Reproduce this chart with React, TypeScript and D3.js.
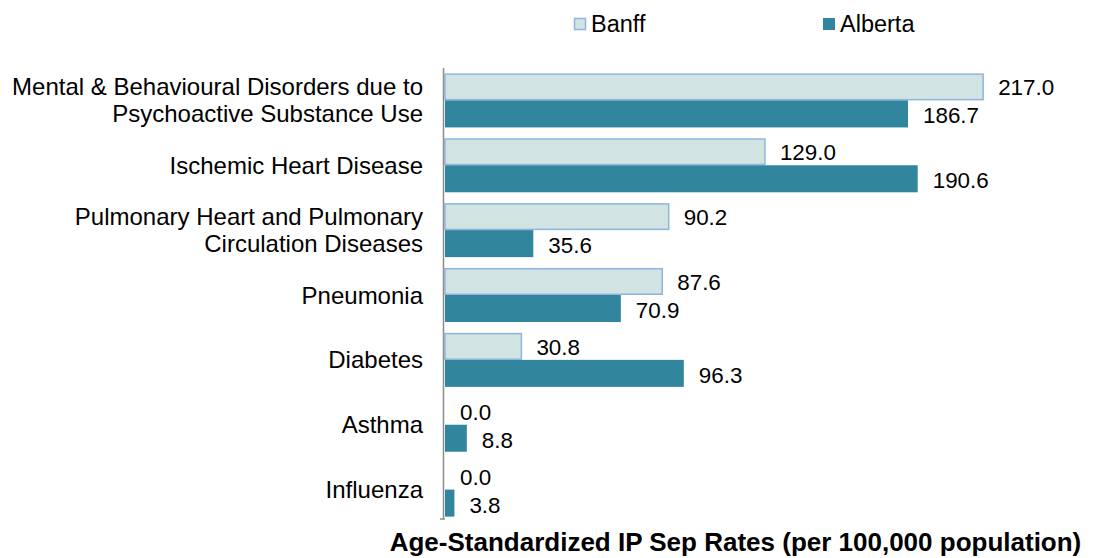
import React from 'react';
import * as d3 from 'd3';

// Data
const categories = [
  ['Mental & Behavioural Disorders due to', 'Psychoactive Substance Use'],
  ['Ischemic Heart Disease'],
  ['Pulmonary Heart and Pulmonary', 'Circulation Diseases'],
  ['Pneumonia'],
  ['Diabetes'],
  ['Asthma'],
  ['Influenza'],
];
const banff = [217.0, 129.0, 90.2, 87.6, 30.8, 0.0, 0.0];
const alberta = [186.7, 190.6, 35.6, 70.9, 96.3, 8.8, 3.8];
const seriesNames = ['Banff', 'Alberta'];
const axisTitle = 'Age-Standardized IP Sep Rates (per 100,000 population)';

const W = 1093;
const H = 558;
const FONT = '"Liberation Sans", Arial, Helvetica, sans-serif';
const BANFF_FILL = '#d2e4e2';
const BANFF_STROKE = '#8fb4e3';
const ALBERTA_FILL = '#31859c';

export default function App() {
  const keys = categories.map((c, i) => String(i));
  const y = d3.scaleBand<string>().domain(keys).range([68, 522]).paddingInner(0.167).paddingOuter(0.083);
  const x = d3.scaleLinear().domain([0, 250]).range([445, 1065]);
  const barH = y.bandwidth() / 2;
  const fmt = d3.format('.1f');

  return (
    <svg width={W} height={H} style={{ position: 'absolute', left: 0, top: 0, background: '#fff' }} fontFamily={FONT}>
      {/* legend */}
      <g>
        <rect x={574.5} y={18.5} width={11} height={11} fill={BANFF_FILL} stroke={BANFF_STROKE} strokeWidth={1.5} />
        <text x={591} y={32} fontSize={23.5}>{seriesNames[0]}</text>
        <rect x={823} y={18} width={12} height={12} fill={ALBERTA_FILL} />
        <text x={840} y={32} fontSize={23.5}>{seriesNames[1]}</text>
      </g>

      {keys.map((k, i) => {
        const y0 = y(k) as number;
        const lines = categories[i];
        const cy = y0 + y.bandwidth() / 2;
        const lh = 27;
        return (
          <g key={k}>
            <rect x={x(0)} y={y0 + 0.75} width={Math.max(0, x(banff[i]) - x(0))} height={barH - 1.5}
              fill={BANFF_FILL} stroke={banff[i] > 0 ? BANFF_STROKE : 'none'} strokeWidth={1.5} />
            <rect x={x(0)} y={y0 + barH} width={x(alberta[i]) - x(0)} height={barH} fill={ALBERTA_FILL} />
            <text x={x(banff[i]) + 15} y={y0 + barH / 2 + 1} dominantBaseline="central" fontSize={22.4}>{fmt(banff[i])}</text>
            <text x={x(alberta[i]) + 15} y={y0 + barH * 1.5 + 2} dominantBaseline="central" fontSize={22.4}>{fmt(alberta[i])}</text>
            {lines.map((t, j) => (
              <text key={j} x={423} y={cy + (j - (lines.length - 1) / 2) * lh} textAnchor="end"
                dominantBaseline="central" fontSize={24}>{t}</text>
            ))}
          </g>
        );
      })}

      {/* axis line */}
      <line x1={443.5} x2={443.5} y1={68} y2={519} stroke="#8c8c8c" strokeWidth={1.5} />
      <line x1={440} x2={445} y1={519} y2={519} stroke="#8c8c8c" strokeWidth={1.5} />

      <text x={735.5} y={551} textAnchor="middle" fontSize={26} fontWeight="bold">{axisTitle}</text>
    </svg>
  );
}
